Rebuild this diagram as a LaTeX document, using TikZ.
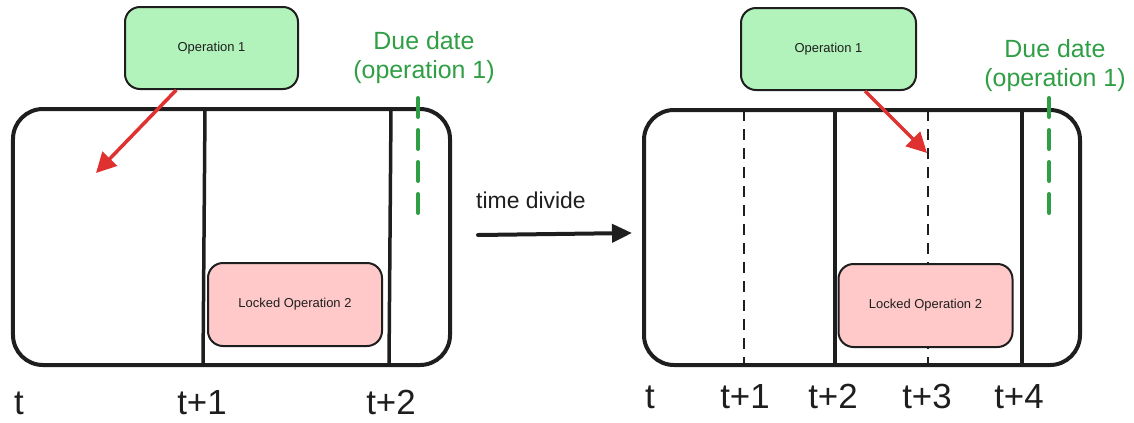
\documentclass[tikz,border=0pt]{standalone}
\usepackage{fontspec}
\setmainfont{Liberation Sans}
\usetikzlibrary{arrows.meta}

\definecolor{ink}{HTML}{1E1E1E}
\definecolor{opgreen}{HTML}{B2F2BB}
\definecolor{lockred}{HTML}{FFC9C9}
\definecolor{duegreen}{HTML}{2F9E44}
\definecolor{arrowred}{HTML}{E03131}

\tikzset{
  frame/.style={draw=ink, line width=4bp, rounded corners=30bp, inner sep=0pt},
  slot/.style={draw=ink, line width=3.5bp},
  subslot/.style={draw=ink, line width=1.4bp, dash pattern=on 11bp off 8bp},
  opbox/.style={draw=ink, line width=2bp, rounded corners=15bp, inner sep=0pt,
    font=\fontsize{13}{15}\selectfont, text=ink},
  opgreenbox/.style={opbox, fill=opgreen, minimum width=173bp, minimum height=82bp},
  lockbox/.style={opbox, fill=lockred, minimum width=174bp, minimum height=83bp},
  duedash/.style={draw=duegreen, line width=4bp, line cap=round, dash pattern=on 19bp off 13bp},
  duelabel/.style={text=duegreen, align=center, font=\fontsize{25}{29}\selectfont, inner sep=0pt},
  tick/.style={text=ink, anchor=base, font=\fontsize{35}{40}\selectfont, inner sep=0pt,
    text depth=0pt},
  moveto/.style={draw=arrowred, line width=3.5bp,
    -{Triangle[length=20bp, width=20bp]}},
  divide/.style={draw=ink, line width=4bp, line cap=round,
    -{Triangle[length=20bp, width=18bp]}},
}

\begin{document}
\begin{tikzpicture}[x=1bp, y=1bp]
\useasboundingbox (0,0) rectangle (1134,-422);

% ---------- before: two periods ----------
\node[frame, minimum width=437bp, minimum height=256bp] (frameA) at (231.5,-237) {};
\coordinate (a1t) at (205,-109); \coordinate (a1b) at (203,-365);
\coordinate (a2t) at (391,-109); \coordinate (a2b) at (389,-365);
\draw[slot] (a1t) -- (a1b);
\draw[slot] (a2t) -- (a2b);

\coordinate (dueAt) at (418,-98); \coordinate (dueAb) at (418,-222);
\draw[duedash] (dueAt) -- (dueAb);

\node[lockbox] (lockA) at (295,-304.5) {Locked Operation 2};
\node[opgreenbox] (opA) at (211.5,-48) {Operation 1};

\coordinate (tipA) at (96,-173);
\draw[moveto] (opA.230) -- (tipA);

\node[duelabel] (dueA) at (424,-58) {Due date\\(operation 1)};

\node[tick] (tA0) at (19,-414) {t};
\node[tick] (tA1) at (202,-414) {t+1};
\node[tick] (tA2) at (391,-414) {t+2};

% ---------- transition ----------
\node[text=ink, font=\fontsize{23}{27}\selectfont, inner sep=0pt] (divlabel) at (531,-200) {time divide};
\coordinate (divs) at (478,-235); \coordinate (dive) at (632,-233);
\draw[divide] (divs) -- (dive);

% ---------- after: four periods ----------
\node[frame, minimum width=436bp, minimum height=255bp] (frameB) at (862,-237.5) {};
\coordinate (b1t) at (744,-110); \coordinate (b1b) at (744,-365);
\coordinate (b2t) at (835,-110); \coordinate (b2b) at (835,-365);
\coordinate (b3t) at (928,-110); \coordinate (b3b) at (928,-365);
\coordinate (b4t) at (1022,-110); \coordinate (b4b) at (1022,-365);
\draw[subslot] (b1t) -- (b1b);
\draw[slot] (b2t) -- (b2b);
\draw[subslot] (b3t) -- (b3b);
\draw[slot] (b4t) -- (b4b);

\coordinate (dueBt) at (1049,-98); \coordinate (dueBb) at (1049,-222);
\draw[duedash] (dueBt) -- (dueBb);

\node[lockbox] (lockB) at (925.5,-305.5) {Locked Operation 2};
\node[opgreenbox, minimum width=175bp] (opB) at (828.5,-49) {Operation 1};

\coordinate (tipB) at (927,-153);
\draw[moveto] (opB.311) -- (tipB);

\node[duelabel] (dueB) at (1055,-66) {Due date\\(operation 1)};

\node[tick] (tB0) at (650,-408) {t};
\node[tick] (tB1) at (745,-408) {t+1};
\node[tick] (tB2) at (833,-408) {t+2};
\node[tick] (tB3) at (927,-408) {t+3};
\node[tick] (tB4) at (1019,-408) {t+4};
\end{tikzpicture}
\end{document}
